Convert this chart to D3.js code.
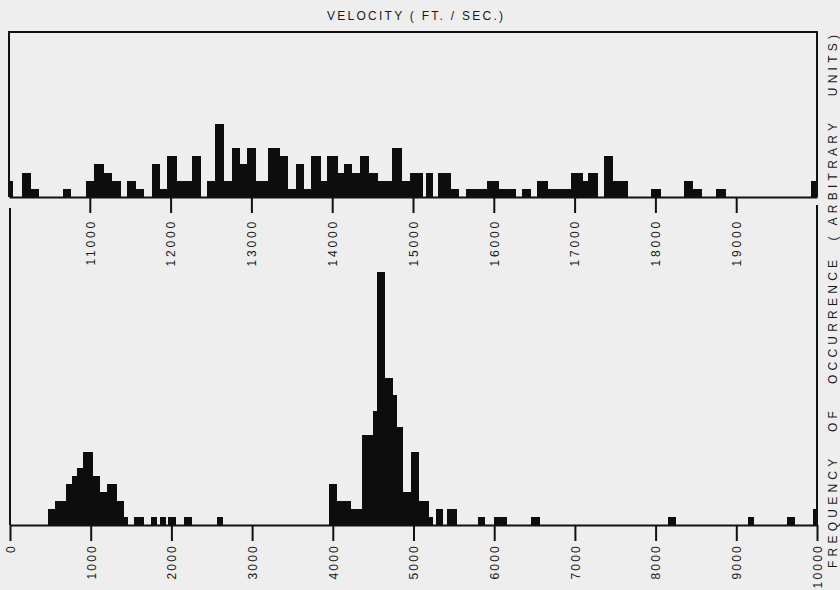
<!DOCTYPE html>
<html>
<head>
<meta charset="utf-8">
<script src="https://cdn.jsdelivr.net/npm/d3@7/dist/d3.min.js"></script>
<style>
  body { margin: 0; background: #eeeeee; }
  svg { display: block; }
  text { font-family: "Liberation Sans", Arial, sans-serif; fill: #1a1a1a; }
</style>
</head>
<body>
<div class="chart"></div>
<script>
// Velocity histograms: upper panel 10000-20000 ft/sec, lower panel 0-10000 ft/sec

var svgWidth = 840;
var svgHeight = 590;

// upper panel bars (ft/sec edges, arbitrary counts)
var topStart = [10000, 10155, 10270, 10665, 10950, 11050, 11175, 11280, 11465, 11575,
                11765, 11865, 11950, 12075, 12260, 12445, 12545, 12655, 12755, 12855,
                12945, 13060, 13200, 13350, 13450, 13555, 13650, 13740, 13865, 13940,
                14070, 14140, 14250, 14345, 14455, 14565, 14740, 14865, 14965, 15155,
                15305, 15470, 15655, 15920, 16070, 16355, 16540, 16665, 16955, 17100,
                17160, 17365, 17470, 17945, 18355, 18460, 18745, 19925];
var topEnd   = [10050, 10270, 10375, 10765, 11050, 11175, 11280, 11380, 11575, 11670,
                11865, 11950, 12075, 12260, 12380, 12545, 12655, 12755, 12855, 12945,
                13060, 13200, 13350, 13450, 13555, 13650, 13740, 13865, 13940, 14070,
                14140, 14250, 14345, 14455, 14565, 14740, 14865, 14965, 15120, 15245,
                15470, 15575, 15920, 16070, 16275, 16460, 16665, 16955, 17100, 17160,
                17285, 17470, 17655, 18065, 18460, 18580, 18870, 20000];
var topCount = [2, 3, 1, 1, 2, 4, 3, 2, 2, 1,
                4, 1, 5, 2, 5, 2, 9, 2, 6, 4,
                6, 2, 6, 5, 1, 4, 1, 5, 2, 5,
                3, 4, 3, 5, 3, 2, 6, 2, 3, 3,
                3, 1, 1, 2, 1, 1, 2, 1, 3, 2,
                3, 5, 2, 1, 2, 1, 1, 2];

// lower panel bars
var lowStart = [470, 560, 700, 765, 835, 900, 1025, 1115, 1200, 1320,
                1410, 1540, 1750, 1860, 1960, 2150, 2560,
                3950, 4050, 4230, 4360, 4500, 4550, 4650, 4750, 4800,
                4875, 4975, 5070, 5195, 5280, 5410,
                5800, 6000, 6460, 8150, 9140, 9625, 9950];
var lowEnd   = [560, 700, 765, 835, 900, 1025, 1115, 1200, 1320, 1410,
                1460, 1660, 1820, 1930, 2055, 2250, 2645,
                4050, 4230, 4360, 4500, 4550, 4650, 4750, 4800, 4875,
                4975, 5070, 5195, 5245, 5360, 5540,
                5885, 6160, 6570, 8250, 9220, 9725, 10000];
var lowCount = [2, 3, 5, 6, 7, 9, 6, 4, 5, 3,
                1, 1, 1, 1, 1, 1, 1,
                5, 3, 2, 11, 14, 31, 18, 16, 12,
                4, 9, 3, 1, 2, 2,
                1, 1, 1, 1, 1, 1, 2];

var topTicks = [11000, 12000, 13000, 14000, 15000, 16000, 17000, 18000, 19000];
var lowTicks = [0, 1000, 2000, 3000, 4000, 5000, 6000, 7000, 8000, 9000, 10000];

var title = "VELOCITY ( FT. / SEC.)";
var yLabel = "FREQUENCY   OF   OCCURRENCE  ( ARBITRARY   UNITS)";

var svg = d3.select(".chart")
    .append("svg")
    .attr("width", svgWidth)
    .attr("height", svgHeight);

// scales
var xTop = d3.scaleLinear().domain([10000, 20000]).range([9, 817]);
var xLow = d3.scaleLinear().domain([0, 10000]).range([10, 817]);
var yTop = d3.scaleLinear().domain([0, 20]).range([197, 34]);
var yLow = d3.scaleLinear().domain([0, 20]).range([525, 362]);

var topBars = topStart.map((s, i) => ({x0: s, x1: topEnd[i], n: topCount[i]}));
var lowBars = lowStart.map((s, i) => ({x0: s, x1: lowEnd[i], n: lowCount[i]}));

// upper bars
svg.append("g").selectAll("rect")
    .data(topBars)
    .join("rect")
    .attr("x", d => xTop(d.x0))
    .attr("width", d => xTop(d.x1) - xTop(d.x0))
    .attr("y", d => yTop(d.n))
    .attr("height", d => yTop(0) - yTop(d.n))
    .attr("fill", "#0d0d0d")
    .attr("shape-rendering", "crispEdges");

// lower bars
svg.append("g").selectAll("rect")
    .data(lowBars)
    .join("rect")
    .attr("x", d => xLow(d.x0))
    .attr("width", d => xLow(d.x1) - xLow(d.x0))
    .attr("y", d => yLow(d.n))
    .attr("height", d => yLow(0) - yLow(d.n))
    .attr("fill", "#0d0d0d")
    .attr("shape-rendering", "crispEdges");

// upper box (top and sides)
svg.append("path")
    .attr("d", `M${xTop(10000)},${yTop(0)}V32H${xTop(20000)}V${yTop(0)}`)
    .attr("fill", "none")
    .attr("stroke", "#111")
    .attr("stroke-width", 2);

// lower side lines
[xLow(0), xLow(10000)].forEach(function(x, i) {
    svg.append("line")
        .attr("x1", x).attr("x2", x)
        .attr("y1", i == 0 ? 208 : 205).attr("y2", yLow(0))
        .attr("stroke", "#111")
        .attr("stroke-width", 2);
});

// axes
var topAxis = d3.axisBottom(xTop)
    .tickValues(topTicks)
    .tickSize(16)
    .tickSizeOuter(0)
    .tickFormat(d3.format("d"));

var lowAxis = d3.axisBottom(xLow)
    .tickValues(lowTicks)
    .tickSize(16)
    .tickSizeOuter(0)
    .tickFormat(d3.format("d"));

function styleAxis(g, pad, spacing) {
    g.select(".domain").attr("stroke", "#111").attr("stroke-width", 2);
    g.selectAll(".tick line").attr("stroke", "#111").attr("stroke-width", 2);
    g.selectAll(".tick text")
        .attr("transform", "rotate(-90)")
        .attr("text-anchor", "end")
        .attr("x", -pad)
        .attr("y", 0)
        .attr("dy", "0.36em")
        .style("font-size", "12px")
        .style("letter-spacing", spacing + "px")
        .attr("fill", "#1a1a1a");
}

svg.append("g")
    .attr("transform", `translate(0, ${yTop(0)})`)
    .call(topAxis)
    .call(g => styleAxis(g, 22, 2.8));

svg.append("g")
    .attr("transform", `translate(0, ${yLow(0)})`)
    .call(lowAxis)
    .call(g => styleAxis(g, 19, 2.2));

// title
svg.append("text")
    .attr("x", 415)
    .attr("y", 20)
    .attr("text-anchor", "middle")
    .attr("textLength", 176)
    .attr("lengthAdjust", "spacing")
    .style("font-size", "12px")
    .text(title);

// right-hand label
svg.append("text")
    .attr("transform", "translate(837, 568) rotate(-90)")
    .attr("text-anchor", "start")
    .attr("textLength", 533)
    .attr("lengthAdjust", "spacing")
    .style("font-size", "12px")
    .style("white-space", "pre")
    .text(yLabel);
</script>
</body>
</html>
